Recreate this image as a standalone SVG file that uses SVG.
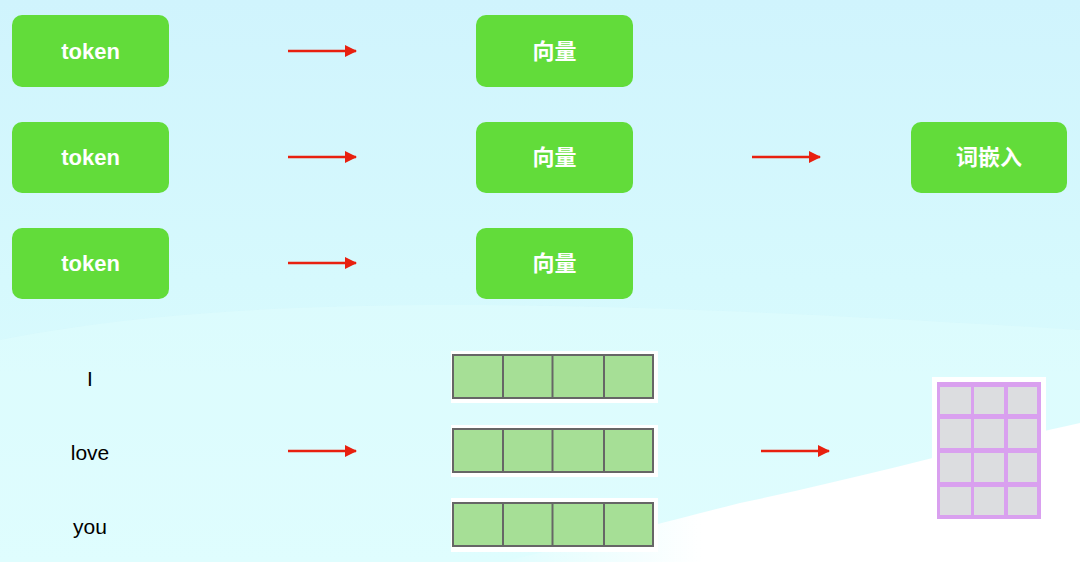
<svg xmlns="http://www.w3.org/2000/svg" width="1080" height="562" viewBox="0 0 1080 562">
<defs>
<linearGradient id="bg" x1="0" y1="0" x2="0" y2="1">
<stop offset="0" stop-color="#d0f4fd"/>
<stop offset="0.5" stop-color="#d6f9fd"/>
<stop offset="1" stop-color="#dcfcfe"/>
</linearGradient>
<linearGradient id="wh" x1="0" y1="0" x2="1" y2="0">
<stop offset="0" stop-color="#ffffff" stop-opacity="0"/>
<stop offset="0.35" stop-color="#ffffff" stop-opacity="1"/>
<stop offset="1" stop-color="#ffffff" stop-opacity="1"/>
</linearGradient>
<marker id="ah" viewBox="0 0 12 12" refX="11" refY="6" markerWidth="12" markerHeight="12" markerUnits="userSpaceOnUse" orient="auto">
<path d="M0,0 L12,6 L0,12 Z" fill="#e8200f"/>
</marker>
<style>
.box{fill:#62dc3a;}
.bt{font-family:"Liberation Sans","Noto Sans CJK SC",sans-serif;font-size:22px;font-weight:bold;fill:#ffffff;text-anchor:middle;}
.wt{font-family:"Liberation Sans",sans-serif;font-size:21px;fill:#000000;text-anchor:middle;}
.arr{stroke:#e8200f;stroke-width:2.5;fill:none;marker-end:url(#ah);}
.bar{fill:#a6df96;stroke:#666666;stroke-width:2;}
.cell{fill:#dcdde0;}
</style>
</defs>
<rect width="1080" height="562" fill="url(#bg)"/>
<path d="M0,340 C250,290 600,300 1080,330 L1080,562 L0,562 Z" fill="#e2fdfe" opacity="0.5"/>
<path d="M500,562 C600,540 680,518 740,503 C860,478 980,445 1080,423 L1080,562 Z" fill="url(#wh)"/>

<g id="connectors">
<line class="arr" x1="288" y1="51" x2="356" y2="51"/>
<line class="arr" x1="288" y1="157" x2="356" y2="157"/>
<line class="arr" x1="288" y1="263" x2="356" y2="263"/>
<line class="arr" x1="752" y1="157" x2="820" y2="157"/>
<line class="arr" x1="288" y1="451" x2="356" y2="451"/>
<line class="arr" x1="761" y1="451" x2="829" y2="451"/>
</g>

<g id="token1"><rect class="box" x="12" y="15" width="157" height="72" rx="10"/><text class="bt" x="90.5" y="59">token</text></g>
<g id="token2"><rect class="box" x="12" y="122" width="157" height="71" rx="10"/><text class="bt" x="90.5" y="165">token</text></g>
<g id="token3"><rect class="box" x="12" y="228" width="157" height="71" rx="10"/><text class="bt" x="90.5" y="271">token</text></g>

<g id="vec1"><rect class="box" x="476" y="15" width="157" height="72" rx="10"/><text class="bt" x="554.5" y="59">向量</text></g>
<g id="vec2"><rect class="box" x="476" y="122" width="157" height="71" rx="10"/><text class="bt" x="554.5" y="165">向量</text></g>
<g id="vec3"><rect class="box" x="476" y="228" width="157" height="71" rx="10"/><text class="bt" x="554.5" y="271">向量</text></g>

<g id="embed"><rect class="box" x="911" y="122" width="156" height="71" rx="10"/><text class="bt" x="989" y="165">词嵌入</text></g>

<g id="word-I"><text class="wt" x="90" y="386">I</text></g>
<g id="word-love"><text class="wt" x="90" y="460">love</text></g>
<g id="word-you"><text class="wt" x="90" y="534">you</text></g>

<g id="bar1">
<rect x="451" y="351" width="207" height="52" fill="#ffffff"/>
<rect class="bar" x="453" y="355" width="200" height="43"/>
<line x1="503" y1="355" x2="503" y2="398" stroke="#666666" stroke-width="2"/>
<line x1="552.5" y1="355" x2="552.5" y2="398" stroke="#666666" stroke-width="2"/>
<line x1="604" y1="355" x2="604" y2="398" stroke="#666666" stroke-width="2"/>
</g>
<g id="bar2">
<rect x="451" y="425" width="207" height="52" fill="#ffffff"/>
<rect class="bar" x="453" y="429" width="200" height="43"/>
<line x1="503" y1="429" x2="503" y2="472" stroke="#666666" stroke-width="2"/>
<line x1="552.5" y1="429" x2="552.5" y2="472" stroke="#666666" stroke-width="2"/>
<line x1="604" y1="429" x2="604" y2="472" stroke="#666666" stroke-width="2"/>
</g>
<g id="bar3">
<rect x="451" y="498" width="207" height="54" fill="#ffffff"/>
<rect class="bar" x="453" y="503" width="200" height="43"/>
<line x1="503" y1="503" x2="503" y2="546" stroke="#666666" stroke-width="2"/>
<line x1="552.5" y1="503" x2="552.5" y2="546" stroke="#666666" stroke-width="2"/>
<line x1="604" y1="503" x2="604" y2="546" stroke="#666666" stroke-width="2"/>
</g>

<g id="matrix">
<rect x="932" y="377" width="114" height="144" fill="#ffffff"/>
<rect x="937" y="382" width="104" height="137" fill="#d9a0ef"/>
<rect class="cell" x="940" y="387" width="31" height="27"/>
<rect class="cell" x="974" y="387" width="30" height="27"/>
<rect class="cell" x="1008" y="387" width="29" height="27"/>
<rect class="cell" x="940" y="419" width="31" height="29"/>
<rect class="cell" x="974" y="419" width="30" height="29"/>
<rect class="cell" x="1008" y="419" width="29" height="29"/>
<rect class="cell" x="940" y="453" width="31" height="29"/>
<rect class="cell" x="974" y="453" width="30" height="29"/>
<rect class="cell" x="1008" y="453" width="29" height="29"/>
<rect class="cell" x="940" y="487" width="31" height="28"/>
<rect class="cell" x="974" y="487" width="30" height="28"/>
<rect class="cell" x="1008" y="487" width="29" height="28"/>
</g>
</svg>
